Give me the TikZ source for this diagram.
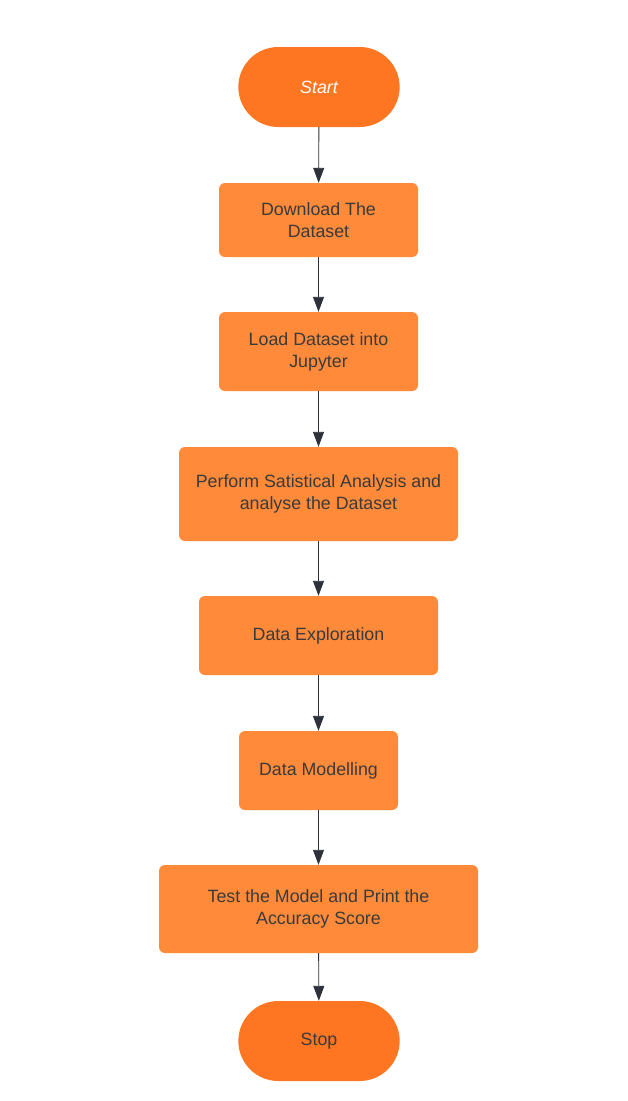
\documentclass[tikz,border=0pt]{standalone}
\usepackage{fontspec}
\setmainfont{Liberation Sans}
\usetikzlibrary{arrows.meta,shapes.misc}
\definecolor{termorange}{RGB}{255,118,34}
\definecolor{boxorange}{RGB}{255,139,58}
\definecolor{txtgray}{RGB}{58,58,58}
\definecolor{arrgray}{RGB}{45,50,58}

\tikzset{
    terminal/.style={rounded rectangle, fill=termorange, minimum width=168pt, minimum height=80pt, text=txtgray, font=\fontsize{17.8}{21}\selectfont},
    stepbox/.style={rectangle, rounded corners=6pt, fill=boxorange, text=txtgray, align=center, font=\fontsize{17.8}{22}\selectfont},
    flow/.style={draw=arrgray, line width=0.9pt, -{Triangle[length=15pt,width=11pt]}}
}

\begin{document}
\begin{tikzpicture}[x=1pt,y=-1pt]
    \useasboundingbox (0,0) rectangle (627,1101);
    % start and stop
    \node[terminal, text=white] (start) at (319,87) {\itshape Start};
    \node[terminal] (stop) at (319,1041) {Stop};
    % steps
    \node[stepbox, minimum width=199pt, minimum height=74pt] (download) at (318.5,220) {Download The\\Dataset};
    \node[stepbox, minimum width=199pt, minimum height=79pt] (load) at (318.5,351.5) {Load Dataset into\\Jupyter};
    \node[stepbox, minimum width=279pt, minimum height=94pt] (stats) at (318.5,494) {Perform Satistical Analysis and\\analyse the Dataset};
    \node[stepbox, minimum width=239pt, minimum height=79pt] (explore) at (318.5,635.5) {Data Exploration};
    \node[stepbox, minimum width=159pt, minimum height=79pt] (model) at (318.5,770.5) {Data Modelling};
    \node[stepbox, minimum width=319pt, minimum height=88pt] (test) at (318.5,909) {Test the Model and Print the\\Accuracy Score};
    % connectors
    \draw[flow] (start) -- (download);
    \draw[flow] (download) -- (load);
    \draw[flow] (load) -- (stats);
    \draw[flow] (stats) -- (explore);
    \draw[flow] (explore) -- (model);
    \draw[flow] (model) -- (test);
    \draw[flow] (test) -- (stop);
\end{tikzpicture}
\end{document}
